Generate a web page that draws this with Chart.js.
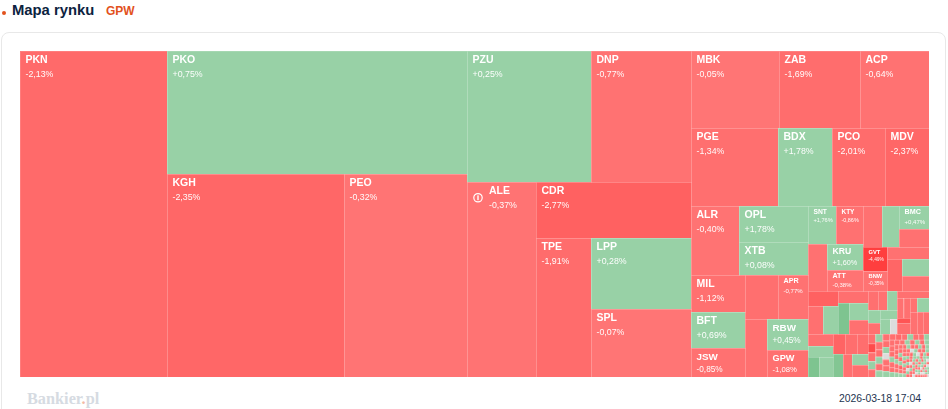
<!DOCTYPE html>
<html lang="pl">
<head>
<meta charset="utf-8">
<title>Mapa rynku</title>
<script src="https://cdn.jsdelivr.net/npm/chart.js@4"></script>
<style>
    html, body { margin: 0; padding: 0; background: #fff; overflow: hidden; }
    body { width: 948px; height: 409px; position: relative; font-family: "Liberation Sans", Arial, sans-serif; }
    .dot { position: absolute; left: 2px; top: 11px; width: 4px; height: 4px; border-radius: 50%; background: #e2521d; }
    .title { position: absolute; left: 12px; top: 0; font-size: 14.8px; line-height: 20px; font-weight: bold; color: #0c2340; }
    .market { position: absolute; left: 106px; top: 1px; font-size: 12px; line-height: 20px; font-weight: bold; color: #e2521d; }
    .card { position: absolute; left: 1px; top: 32px; width: 945px; height: 400px; border: 1px solid #e8e8e8; border-radius: 8px; box-sizing: border-box; }
    #map { position: absolute; left: 20px; top: 51px; }
    .logo { position: absolute; left: 27px; top: 390px; font-family: "Liberation Serif", serif; font-size: 16.3px; line-height: 18px; font-weight: bold; color: #d6dbe2; }
    .logo span { color: #f3b9a3; }
    .stamp { position: absolute; right: 27px; top: 392px; font-size: 10.4px; line-height: 14px; color: #23344f; }
</style>
</head>
<body>
<div class="dot"></div>
<div class="title">Mapa rynku</div>
<div class="market">GPW</div>
<div class="card"></div>
<canvas id="map" width="909" height="326"></canvas>
<div class="logo">Bankier<span>.</span>pl</div>
<div class="stamp">2026-03-18 17:04</div>
<script>
const mapWidth = 909, mapHeight = 326;

const tickers = ['PKN', 'PKO', 'KGH', 'PEO', 'PZU', 'DNP', 'ALE', 'CDR', 'TPE', 'LPP', 'SPL',
    'MBK', 'ZAB', 'ACP', 'PGE', 'BDX', 'PCO', 'MDV', 'ALR', 'OPL', 'XTB', 'MIL', 'BFT', 'JSW',
    '', 'APR', '', 'RBW', 'GPW', 'SNT', 'KTY', '', 'KRU', 'ATT', '', '', 'BMC', '', 'GVT', 'BNW'];
const changes = [-2.13, 0.75, -2.35, -0.32, 0.25, -0.77, -0.37, -2.77, -1.91, 0.28, -0.07,
    -0.05, -1.69, -0.64, -1.34, 1.78, -2.01, -2.37, -0.40, 1.78, 0.08, -1.12, 0.69, -0.85,
    -1.3, -0.77, -1.1, 0.45, -1.08, 1.76, -0.86, -1.0, 1.60, -0.38, -1.0, 0.9, 0.47, -0.9, -4.49, -0.35];
const weights = [47922, 36900, 35931, 24969, 16244, 13100, 13455, 8680, 7645, 7100, 6800,
    6776, 6237, 5313, 6786, 4212, 4134, 3432, 3312, 2484, 2277, 1998, 1944, 1566,
    1452, 1320, 1276, 1271, 1107, 1064, 1026, 893, 936, 756, 779, 697, 690, 540, 576, 480];

// small companies without a label, read block by block
const smallWeights = [504, 480, 459, 405,
    450, 420, 420, 360, 341, 323, 266,
    300, 275, 220, 280, 240, 240, 220, 230, 207, 176, 192,
    190, 171, 190, 156, 132, 153, 150, 105,
    224, 130, 130, 65, 143, 98, 154, 168, 132, 132];
const smallChanges = [-0.9, -2.4, 1.2, -1.0,
    -2.8, -1.1, 1.0, -1.3, 3.2, 1.1, -1.2,
    -1.2, 0.6, 3.2, 0.7, -2.6, -1.5, -1.6, 3.0, -1.0, 1.2, -1.4,
    -1.2, -1.0, 1.0, 1.1, -1.2, 1.2, 1.0, 0,
    -1.1, -1.0, -1.2, -3.4, -1.1, -1.0, -0.8, 1.0, -1.0, -1.3];

// the crumbs in the bottom right corner
const tinyWeights = [70, 68, 66, 60, 58, 56, 54, 52, 50, 48,
    46, 44, 42, 42, 40, 40, 38, 38, 36, 36,
    34, 34, 32, 32, 30, 30, 28, 28, 27, 26,
    25, 25, 24, 24, 23, 23, 22, 22, 21, 21,
    20, 20, 19, 19, 18, 18, 18, 17, 17, 17,
    16, 16, 16, 16, 16, 16, 16, 16, 16, 16,
    14, 14, 14, 14, 14, 14, 14, 14, 14, 14,
    12, 12, 12, 12, 12, 12, 12, 12, 12, 12,
    10, 10, 10, 10, 10, 10, 10, 10, 10, 10, 10, 10,
    9, 9, 9, 9, 9, 9, 9, 9, 9, 9, 9,
    8, 8, 8, 8, 8, 8, 8, 8, 8, 8, 8, 8,
    7, 7, 7, 7, 7, 7, 7, 7, 7, 7, 7, 7,
    6, 6, 6, 6, 6, 6, 6, 6, 6, 6,
    5, 5, 5, 5, 5, 5,
    4, 4, 4, 4];
const tinyChanges = [-1.2, -3.9, -1.1, 1.1, -1.3, 1.2, -1.0, -1.5, 1.0, -1.2,
    1.3, -1.1, -1.4, 1.0, 0, -1.0, -1.2, 1.1, -1.3, -2.2,
    -1.0, 1.2, -1.1, -1.3, 1.0, -1.2, -1.0, -1.6, 1.1, -1.2,
    -1.0, 1.0, -1.4, -1.1, 1.2, -1.0, 1.1, -1.3, 1.1, -1.2,
    -2.0, -1.0, 1.0, -1.2, -1.1, 1.2, -1.0, -1.3, 1.1, -1.5,
    -1.0, 1.1, -1.2, 1.0, -1.4, 1.0, -1.1, 1.3, -2.5, -1.0,
    1.1, -1.2, -1.0, 0, 1.2, -1.3, -1.1, 1.0, -1.0, 1.1,
    -1.4, 1.1, -1.0, -1.2, 1.0, -1.0, -2.1, 1.2, 0, -1.1,
    1.0, -1.3, 1.1, -1.0, 1.1, -1.2, 0, 1.3, -1.1, -1.0, 1.0, 1.0,
    -1.2, 1.0, 1.1, -1.0, 0, -1.3, 1.2, -1.1, -1.2, 1.0, -1.0,
    1.1, -1.2, 1.1, 0, -1.0, 1.0, -1.1, -1.3, 0, 1.2, -1.1, 1.0,
    1.0, -1.2, -1.1, -1.0, 1.1, 0, -1.4, 1.2, 1.0, -1.1, 0, -1.0,
    1.0, 1.1, -1.2, 0, -1.0, 1.1, 1.2, -1.1, 0, -1.0,
    1.1, -1.2, 1.0, 0, -1.1, 1.0,
    1.0, -1.1, -1.0, 0];

const noticeTickers = ['ALE'];

// how the companies nest, in the order of the arrays above:
// _ takes the next company, a list splits its space, turning at every level,
// and a number above one packs that many companies into one block
const _ = 1;
const nesting = [_,
    [_, [_, _]],
    [[_, _], [_, [_, [_, [_, _]]]]],
    [[_, _, _], [_, _, _, _], [
        [[_, [_, _]], [[_, _, _], [[_, _], [_, [_, _]]]]],
        [
            [[[_, _], [_, [_, _]]], [[_, _, [_, _]], [[_, _], [_, [_, [_, _]]]]]],
            [
                [[[_, [_, _]], [_, [_, [_, _]]]], [[_, _, [_, _]], [[_, _, _], [_, _, [_, _]]]]],
                [
                    [[[_, _, _], [[_, _], [_, [_, _]]]], [_, [[[_, _], _, _], [_, _], [_, [_, _]]]]],
                    tinyWeights.length
                ]
            ]
        ]
    ]]
];

const allTickers = tickers.concat(smallWeights.map(() => ''), tinyWeights.map(() => ''));
const allChanges = changes.concat(smallChanges, tinyChanges);
const allWeights = weights.concat(smallWeights, tinyWeights);

function buildTree() {
    let next = 0;
    function read(node) {
        if (node === _) {
            return {weight: allWeights[next], index: next++};
        }
        const children = Array.isArray(node)
            ? node.map(read)
            : Array.from({length: node}, () => read(_));
        return {
            weight: children.reduce((sum, child) => sum + child.weight, 0),
            children: children,
            packed: !Array.isArray(node),
        };
    }
    return read(nesting);
}

function worstRatio(row, side, scale) {
    const total = row.reduce((sum, item) => sum + item.weight * scale, 0);
    const largest = Math.max(...row.map(item => item.weight * scale));
    const smallest = Math.min(...row.map(item => item.weight * scale));
    return Math.max(side * side * largest / (total * total), total * total / (side * side * smallest));
}

function packBlock(node, x, y, w, h, boxes) {
    const scale = (w * h) / node.weight;
    const items = node.children.slice();
    while (items.length) {
        const side = Math.min(w, h);
        const row = [items.shift()];
        while (items.length && worstRatio(row.concat(items[0]), side, scale) <= worstRatio(row, side, scale)) {
            row.push(items.shift());
        }
        const rowArea = row.reduce((sum, item) => sum + item.weight * scale, 0);
        const thick = rowArea / side;
        let along = 0;
        row.forEach(item => {
            const length = item.weight * scale / thick;
            if (w >= h) {
                boxes[item.index] = {x0: x, y0: y + along, x1: x + thick, y1: y + along + length};
            } else {
                boxes[item.index] = {x0: x + along, y0: y, x1: x + along + length, y1: y + thick};
            }
            along += length;
        });
        if (w >= h) {
            x += thick;
            w -= thick;
        } else {
            y += thick;
            h -= thick;
        }
    }
}

function placeNode(node, x, y, w, h, sideways, boxes) {
    if (node.children === undefined) {
        boxes[node.index] = {x0: x, y0: y, x1: x + w, y1: y + h};
        return;
    }
    if (node.packed) {
        packBlock(node, x, y, w, h, boxes);
        return;
    }
    let along = 0;
    node.children.forEach(child => {
        const part = child.weight / node.weight;
        if (sideways) {
            placeNode(child, x + along * w, y, part * w, h, false, boxes);
        } else {
            placeNode(child, x, y + along * h, w, part * h, true, boxes);
        }
        along += part;
    });
}

function mixRgb(from, to, t) {
    return from.map((v, i) => Math.round(v + (to[i] - v) * t));
}

function changeRgb(change) {
    if (change === 0) return [220, 220, 220];
    if (change > 0) {
        return mixRgb([152, 209, 166], [120, 193, 138], Math.min(Math.max(change - 2, 0) / 1.5, 1));
    }
    const size = -change;
    if (size < 2) return mixRgb([255, 117, 117], [255, 108, 108], size / 2);
    if (size < 3) return mixRgb([255, 108, 108], [255, 94, 94], size - 2);
    return mixRgb([255, 94, 94], [255, 62, 62], Math.min((size - 3) / 1.5, 1));
}

function toCss(rgb) {
    return 'rgb(' + rgb.join(',') + ')';
}

function formatChange(change) {
    return (change > 0 ? '+' : '') + change.toFixed(2).replace('.', ',') + '%';
}

class TreemapController extends Chart.DatasetController {
    static id = 'treemap';
    static defaults = {dataElementType: 'bar'};

    update(mode) {
        const meta = this._cachedMeta;
        this.updateElements(meta.data, 0, meta.data.length, mode);
    }

    updateElements(cells, start, count, mode) {
        const {xScale, yScale} = this._cachedMeta;
        for (let i = start; i < start + count; i++) {
            const box = this.getDataset().data[i];
            const left = xScale.getPixelForValue(box.x0);
            const right = xScale.getPixelForValue(box.x1);
            const top = yScale.getPixelForValue(box.y0);
            const bottom = yScale.getPixelForValue(box.y1);
            this.updateElement(cells[i], i, {
                x: (left + right) / 2,
                y: top,
                base: bottom,
                width: right - left,
                height: bottom - top,
                horizontal: false,
                borderSkipped: {},
                enableBorderRadius: false,
                inflateAmount: 0,
                options: this.resolveDataElementOptions(i, mode),
            }, mode);
        }
    }

    draw() {
        super.draw();
        const ctx = this.chart.ctx;
        const dataset = this.getDataset();
        const cells = this._cachedMeta.data;
        ctx.save();
        ctx.strokeStyle = 'rgba(255,255,255,0.13)';
        ctx.lineWidth = 1;
        cells.forEach(cell => {
            ctx.strokeRect(cell.x - cell.width / 2 + 0.5, cell.y + 0.5, cell.width, cell.height);
        });
        ctx.fillStyle = '#fff';
        ctx.textBaseline = 'middle';
        ctx.textAlign = 'left';
        cells.forEach((cell, i) => {
            const box = dataset.data[i];
            if (!box.ticker) return;
            const size = Math.min(10.5, cell.width * 0.24, cell.height * 0.34);
            const notice = noticeTickers.includes(box.ticker);
            const left = cell.x - cell.width / 2 + (notice ? 22 : 5.5);
            ctx.globalAlpha = 1;
            ctx.font = 'bold ' + size + 'px "Liberation Sans", Arial, sans-serif';
            ctx.fillText(box.ticker, left, cell.y + size * 0.9);
            ctx.globalAlpha = 0.97;
            ctx.font = size * 0.84 + 'px "Liberation Sans", Arial, sans-serif';
            ctx.fillText(formatChange(box.change), left, cell.y + size * 2.2);
            if (notice) {
                const cx = left - 11, cy = cell.y + size * 1.5;
                ctx.globalAlpha = 1;
                ctx.strokeStyle = '#fff';
                ctx.lineWidth = 1.2;
                ctx.beginPath();
                ctx.arc(cx, cy, 4.2, 0, Math.PI * 2);
                ctx.stroke();
                ctx.fillRect(cx - 0.7, cy - 2.4, 1.4, 4.8);
            }
        });
        ctx.restore();
    }
}

Chart.register(TreemapController);

const boxes = [];
placeNode(buildTree(), 0, 0, mapWidth, mapHeight, true, boxes);

const mapCells = boxes.map((box, i) => ({
    ...box,
    x: box.x0,
    y: box.y0,
    ticker: allTickers[i],
    change: allChanges[i],
}));

new Chart(document.getElementById('map'), {
    type: 'treemap',
    data: {
        datasets: [{
            data: mapCells,
            parsing: false,
            borderWidth: 0,
            backgroundColor: ctx => toCss(changeRgb(ctx.raw.change)),
        }],
    },
    options: {
        responsive: false,
        animation: false,
        devicePixelRatio: 1,
        events: [],
        layout: {padding: 0},
        plugins: {legend: {display: false}, tooltip: {enabled: false}},
        scales: {
            x: {type: 'linear', display: false, min: 0, max: mapWidth},
            y: {type: 'linear', display: false, min: 0, max: mapHeight, reverse: true},
        },
    },
});
</script>
</body>
</html>
